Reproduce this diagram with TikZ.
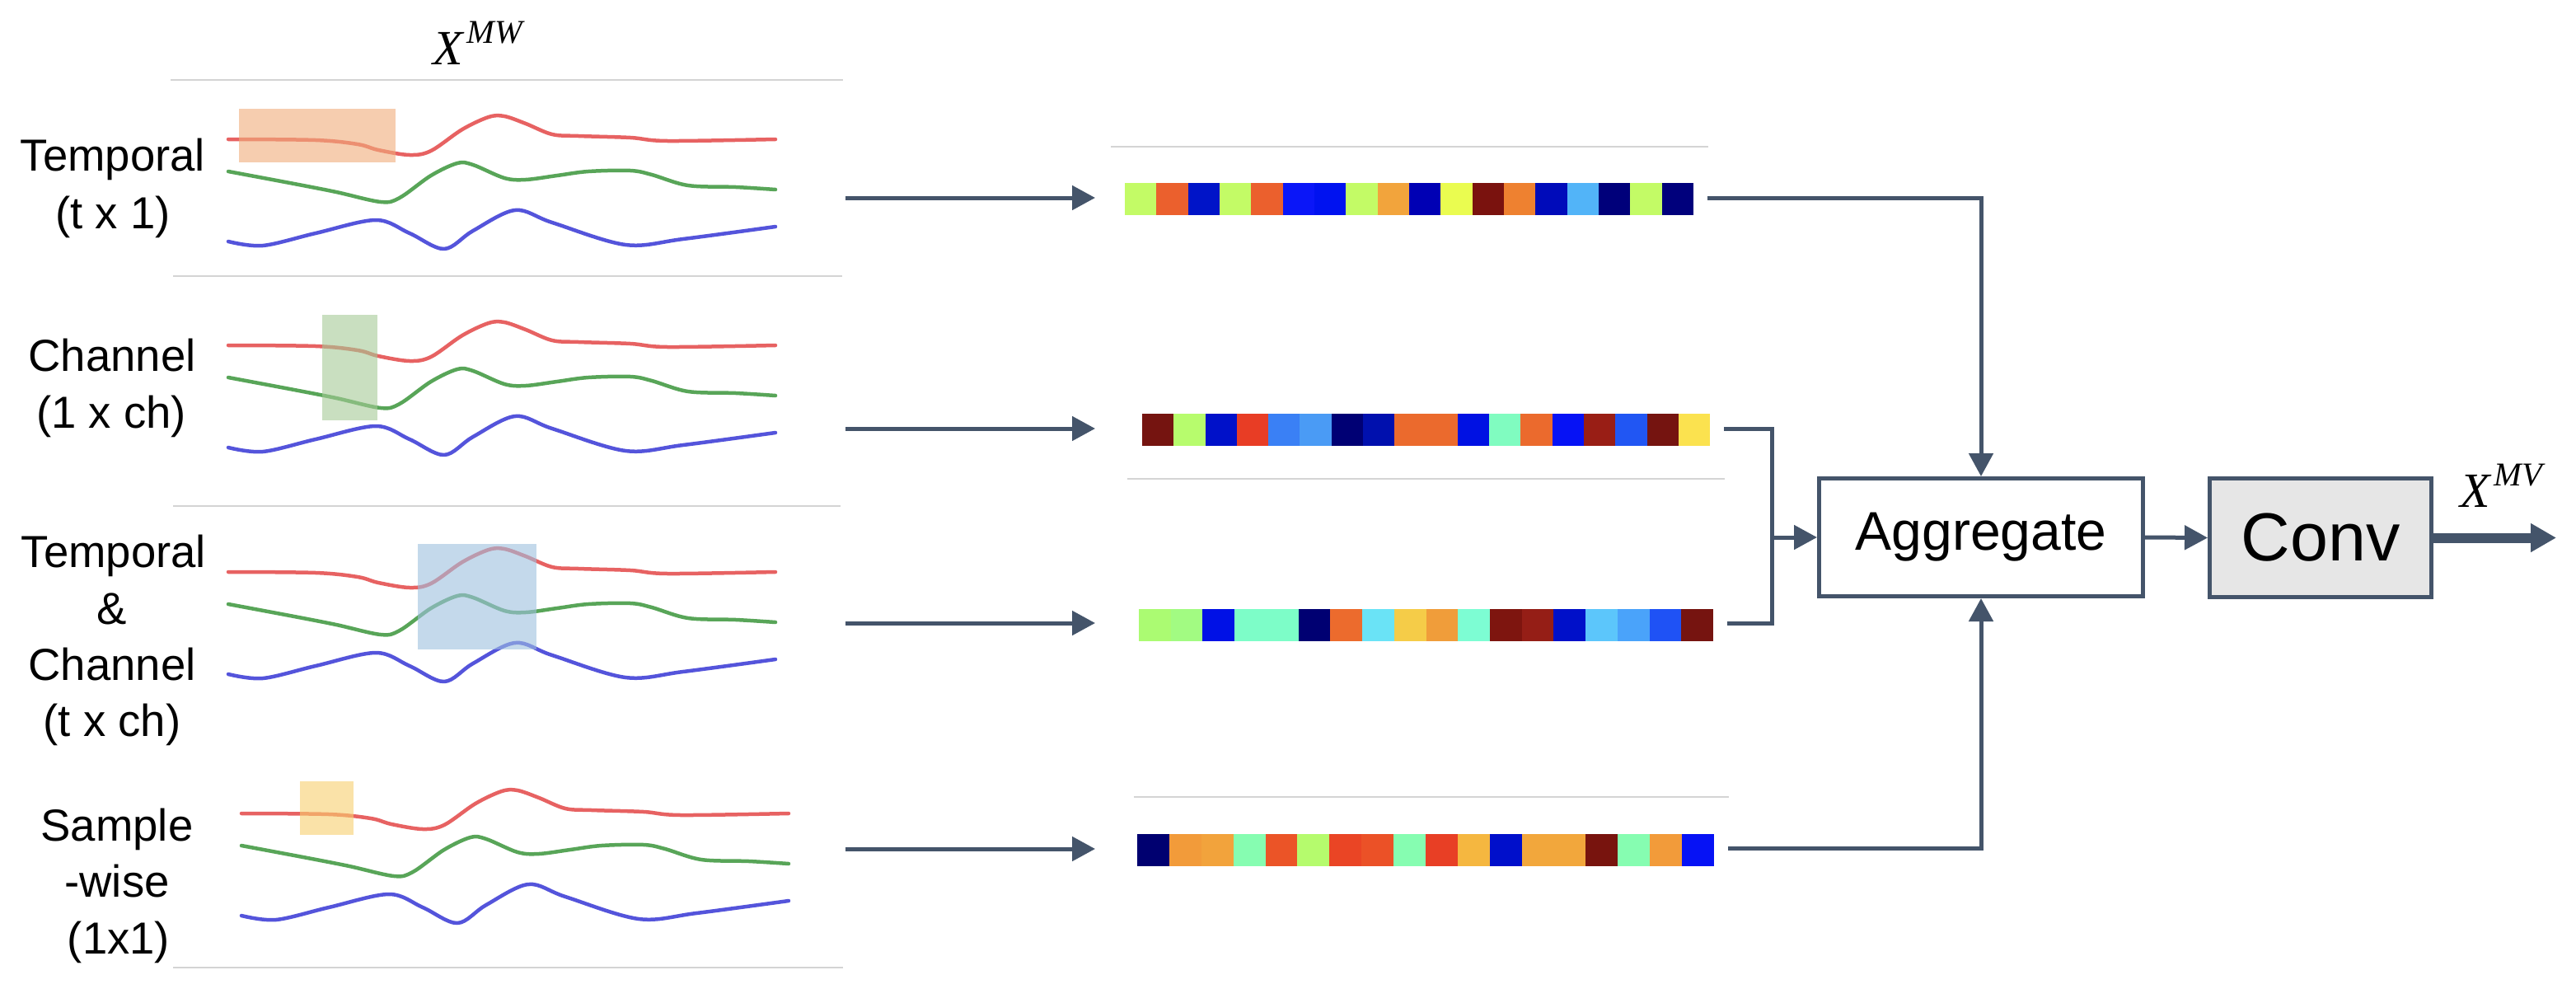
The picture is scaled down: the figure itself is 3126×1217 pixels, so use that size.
\documentclass[tikz,border=0pt]{standalone}
\usepackage{fontspec}
\setmainfont{Liberation Sans}
\newfontfamily\serifit{Liberation Serif}
\usetikzlibrary{arrows.meta,calc}
\definecolor{dk}{HTML}{44546A}
\definecolor{sep}{HTML}{D4D4D4}
\definecolor{wred}{HTML}{E23B3B}
\definecolor{wgreen}{HTML}{2F8F2F}
\definecolor{wblue}{HTML}{2A2AD2}
\definecolor{hlA}{HTML}{F0AD7B}
\definecolor{hlB}{HTML}{A5CA96}
\definecolor{hlC}{HTML}{9EC0DF}
\definecolor{hlD}{HTML}{F8D06E}
\definecolor{convfill}{HTML}{E6E6E6}
\newcommand\mywaves[2]{%
\begin{scope}[shift={(#1,#2)}]
\draw[wave,wred] plot[smooth,tension=0.55] coordinates {(277,169)(383,170)(434,175)(459,182)(497,188)(523,183)(561,157)(593,142)(612,141)(638,150)(670,163)(702,165)(765,167)(810,171)(941,169)};
\draw[wave,wgreen] plot[smooth,tension=0.55] coordinates {(277,208)(357,223)(408,233)(462,245)(485,240)(523,213)(555,198)(574,200)(612,216)(638,218)(676,213)(714,208)(765,207)(791,212)(835,225)(893,227)(941,230)};
\draw[wave,wblue] plot[smooth,tension=0.55] coordinates {(277,293)(319,298)(383,283)(456,267)(497,283)(539,302)(574,280)(625,255)(670,270)(759,297)(829,290)(941,275)};
\end{scope}}
\newcommand\mkbar[4]{%
\foreach \h [count=\i from 0] in {#4}{\definecolor{cc}{HTML}{\h}\fill[cc] ({#1+\i*#3},#2) rectangle ++(#3,39);}}
\begin{document}
\begin{tikzpicture}[x=0.1mm,y=-0.1mm,
  wave/.style={line width=0.45mm,line cap=round,line join=round,opacity=0.8},
  hl/.style={fill opacity=0.6},
  sepline/.style={draw=sep,line width=0.15mm},
  conn/.style={draw=dk,line width=0.5mm},
  arr/.style={draw=dk,line width=0.5mm,-{Triangle[length=2.8mm,width=2.9mm]}},
  bigarr/.style={draw=dk,line width=1.2mm,-{Triangle[length=3.1mm,width=3.3mm]}},
  lbl/.style={font=\fontsize{15.5}{19}\selectfont,anchor=base,inner sep=0},
  xlab/.style={font=\fontsize{17}{19}\selectfont\serifit\itshape,anchor=base,inner sep=0},
  barnode/.style={inner sep=0,minimum height=3.9mm},
  box/.style={draw=dk,line width=0.5mm,inner sep=0}]
\fill[white] (0,0) rectangle (3126,1217);
\useasboundingbox (0,0) rectangle (3126,1217);

% separators
\draw[sepline] (207,97) -- (1023,97);
\draw[sepline] (210,335) -- (1022,335);
\draw[sepline] (210,614) -- (1020,614);
\draw[sepline] (210,1174) -- (1023,1174);
\draw[sepline] (1348,178) -- (2073,178);
\draw[sepline] (1368,581) -- (2093,581);
\draw[sepline] (1376,967) -- (2098,967);

% title
\node[xlab] (xmw) at (580,78) {X\kern0.08em\raisebox{0.42em}{\fontsize{11.5}{12}\selectfont MW}};

% waves
\mywaves{0}{0}
\fill[hlA,hl] (290,132) rectangle (480,197);
\mywaves{0}{250}
\fill[hlB,hl] (391,382) rectangle (458,510);
\mywaves{0}{525}
\fill[hlC,hl] (507,660) rectangle (651,788);
\mywaves{16}{818}
\fill[hlD,hl] (364,948) rectangle (429,1013);

% labels
\node[lbl] (l1a) at (137,207) {Temporal};
\node[lbl] (l1b) at (137,277) {(t x 1)};
\node[lbl] (l2a) at (136,450) {Channel};
\node[lbl] (l2b) at (135,519) {(1 x ch)};
\node[lbl] (l3a) at (138,688) {Temporal};
\node[lbl] (l3b) at (136,757) {\&};
\node[lbl] (l3c) at (136,825) {Channel};
\node[lbl] (l3d) at (136,893) {(t x ch)};
\node[lbl] (l4a) at (142,1020) {Sample};
\node[lbl] (l4b) at (142,1088) {-wise};
\node[lbl] (l4c) at (144,1157) {(1x1)};

% bars
\node[barnode,minimum width=69.0mm] (bar1) at (1710,241.5) {};
\node[barnode,minimum width=68.9mm] (bar2) at (1730.5,521.5) {};
\node[barnode,minimum width=69.7mm] (bar3) at (1730.5,758.5) {};
\node[barnode,minimum width=70.0mm] (bar4) at (1730,1031.5) {};
\mkbar{1365}{222}{38.33}{C3FB66,EB602D,0014C8,C3FB66,EB602D,0A16F8,0012F0,C3FB66,F2A43C,0000B4,EAFC50,7A120E,EE8130,000BBA,52B4F8,00007A,C3FB66,00007C}
\mkbar{1386}{502}{38.28}{751410,B7FC6D,0011C9,E83D25,3A80F5,4A9BF5,000074,0010AE,EB6A2D,EB6A2D,0011E3,80FCC0,EB6A2D,0612F5,991E15,2156F3,751410,FBE24F}
\mkbar{1382}{739}{38.72}{ABFB72,A2FB82,0011E6,7DFDC8,7DFDC8,000072,EC6B2D,6AE3F6,F5CC48,F09D3A,7DFDD3,7E150F,951E16,0010C9,5CC6FB,4AA3FA,1F52F5,761410}
\mkbar{1380}{1012}{38.89}{000070,F29B3A,F2A33C,86FDB1,EB5427,B5FB6D,EA4525,EB5127,86FDB1,E83F25,F5B740,000FCB,F2A73C,F2A73C,78140E,86FDB1,F29B3A,0612F5}

% left arrows
\coordinate (w1) at (1026,240); \coordinate (p1) at (1329,240);
\coordinate (w2) at (1026,520); \coordinate (p2) at (1329,520);
\coordinate (w3) at (1026,756); \coordinate (p3) at (1329,756);
\coordinate (w4) at (1026,1030); \coordinate (p4) at (1329,1030);
\draw[arr] (w1) -- (p1);
\draw[arr] (w2) -- (p2);
\draw[arr] (w3) -- (p3);
\draw[arr] (w4) -- (p4);

% boxes
\node[box,minimum width=39.3mm,minimum height=14.3mm,font=\fontsize{18.8}{22}\selectfont] (agg) at (2404,652) {Aggregate};
\node[box,fill=convfill,minimum width=26.9mm,minimum height=14.4mm,font=\fontsize{23.5}{27}\selectfont] (conv) at (2816,652.5) {Conv};
\node[xlab] (xmv) at (3035,615) {X\kern0.08em\raisebox{0.42em}{\fontsize{11.5}{12}\selectfont MV}};

% connectors
\coordinate (b1s) at (2072,240);
\coordinate (b2s) at (2092,520);
\coordinate (b3s) at (2096,756);
\coordinate (b4s) at (2097,1029);
\coordinate (m) at (2150,652);
\coordinate (out) at (3102,652.5);
\draw[arr] (b1s) -| (agg.north);
\draw[arr] (b4s) -| (agg.south);
\draw[conn] (b2s) -| (m);
\draw[conn] (b3s) -| (m);
\draw[arr] (m) -- (agg.west);
\draw[arr] (agg.east) -- (conv.west);
\draw[bigarr] (conv.east) -- (out);
\end{tikzpicture}
\end{document}
